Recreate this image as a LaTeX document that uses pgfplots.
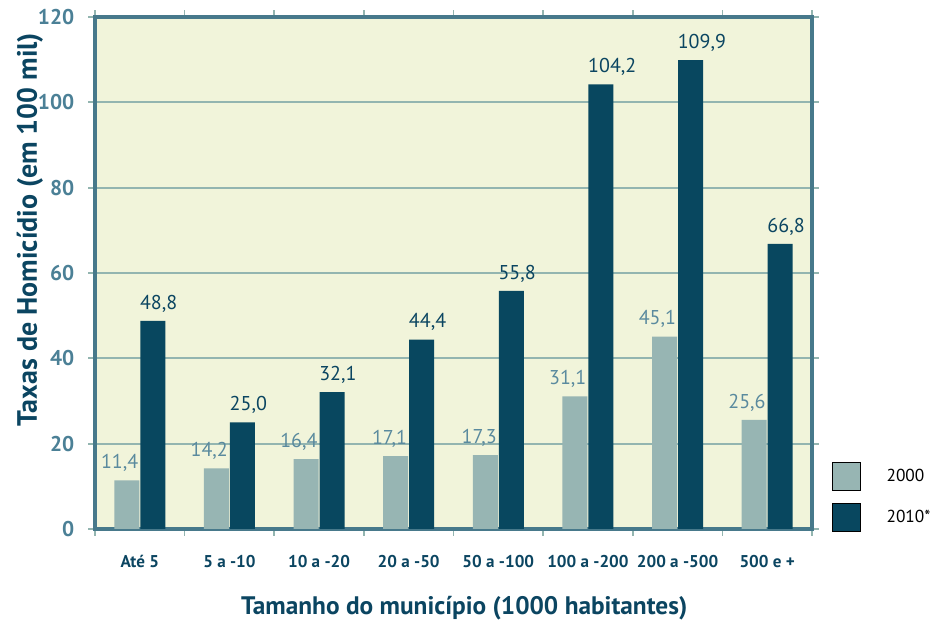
\documentclass[border=0pt]{standalone}
\usepackage{fontspec}
\setmainfont{PT Sans}[Numbers=Monospaced]
\usepackage{pgfplots}
\pgfplotsset{compat=1.18}

\definecolor{bgcol}{HTML}{F1F4DA}
\definecolor{gridcol}{HTML}{93B5B0}
\definecolor{bordercol}{HTML}{47798B}
\definecolor{tickcol}{HTML}{4B8096}
\definecolor{darktext}{HTML}{0B4561}
\definecolor{c2000}{HTML}{97B5B3}
\definecolor{c2010}{HTML}{08475F}
\definecolor{lab2000}{HTML}{5A8A9E}

\pgfplotsset{boxlegend/.style={legend image code/.code={
  \draw[##1,draw=black,line width=0.9pt] (0pt,-10.5pt) rectangle (21pt,10.5pt);}}}

\begin{document}
\begin{tikzpicture}
% page = 936 x 620 px at 0.75pt per px
\useasboundingbox (-71.25pt,-68.25pt) rectangle (630.75pt,396.75pt);
\begin{axis}[
  at={(0,0)}, anchor=south west,
  scale only axis,
  width=537.75pt, height=384pt,
  xmin=0, xmax=8, ymin=0, ymax=120,
  xtick={0,...,8},
  x tick label as interval,
  xticklabels={Até 5,5 a -10,10 a -20,20 a -50,50 a -100,100 a -200,200 a -500,500 e +},
  ytick={0,20,...,120},
  ymajorgrids,
  grid style={draw=gridcol, line width=1.3pt},
  axis background/.style={fill=bgcol},
  axis line style={draw=bordercol, line width=2.6pt},
  tick align=outside,
  major tick length=5pt,
  tick style={draw=gridcol, line width=1.3pt},
  /pgf/number format/assume math mode=true,
  yticklabel style={font=\fontsize{16}{18}\selectfont\bfseries, text=tickcol},
  xticklabel style={font=\fontsize{12.8}{15}\selectfont\bfseries, text=darktext},
  yticklabel shift=7pt,
  xticklabel shift=11pt,
  ylabel={Taxas de Homicídio (em 100 mil)},
  ylabel style={at={(axis description cs:-0.0907,0.585)}, anchor=center,
    font=\fontsize{21}{24}\selectfont\bfseries, text=darktext},
  xlabel={Tamanho do município (1000 habitantes)},
  xlabel style={at={(axis description cs:0.515,-0.154)}, anchor=center,
    font=\fontsize{19}{22}\selectfont\bfseries, text=darktext},
  legend style={at={(rel axis cs:1.022,0.137)}, anchor=north west,
    draw=none, fill=none, row sep=9pt, column sep=17pt,
    font=\fontsize{13}{15}\selectfont},
  legend cell align=left,
  nodes near coords={\pgfmathprintnumber[fixed,fixed zerofill,precision=1,use comma]{\pgfplotspointmeta}},
  clip=false,
]
\addplot[ybar, boxlegend, bar width=0.28, bar shift=-0.145, fill=c2000, draw=none,
  every node near coord/.style={anchor=south east, xshift=-1pt, yshift=3pt, inner xsep=0pt,
    font=\fontsize{15}{17}\selectfont, text=lab2000}]
  coordinates {(0.5,11.4) (1.5,14.2) (2.5,16.4) (3.5,17.1) (4.5,17.3) (5.5,31.1) (6.5,45.1) (7.5,25.6)};
\addlegendentry{2000}
\addplot[ybar, boxlegend, bar width=0.28, bar shift=0.145, fill=c2010, draw=none,
  every node near coord/.style={anchor=south west, xshift=0pt, yshift=3pt, inner xsep=0pt,
    font=\fontsize{15}{17}\selectfont, text=darktext}]
  coordinates {(0.5,48.8) (1.5,25.0) (2.5,32.1) (3.5,44.4) (4.5,55.8) (5.5,104.2) (6.5,109.9) (7.5,66.8)};
\addlegendentry{2010*}
\end{axis}
\end{tikzpicture}
\end{document}
